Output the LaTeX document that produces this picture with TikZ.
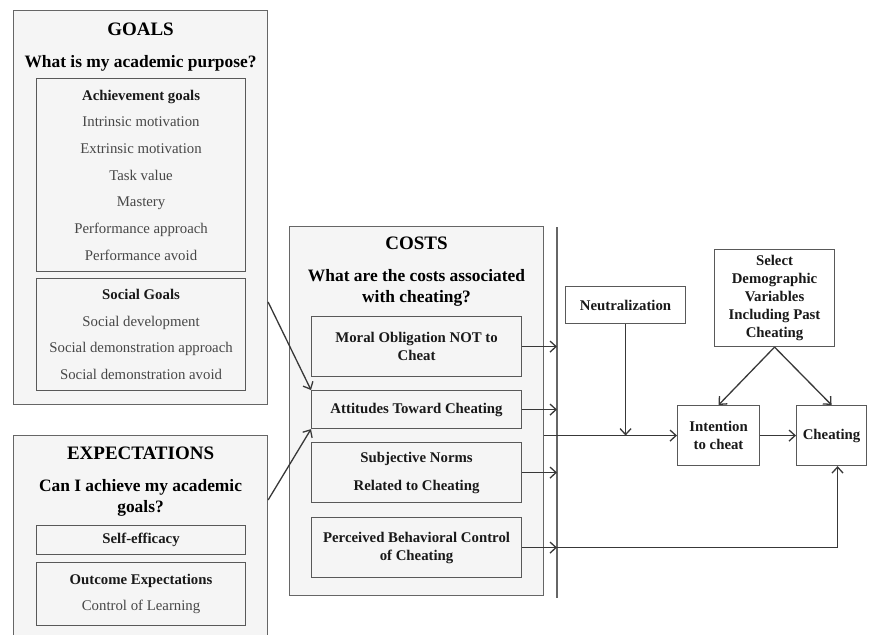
\documentclass[tikz,border=0pt]{standalone}
\usepackage{fontspec}
\setmainfont{Liberation Serif}
\usetikzlibrary{positioning, arrows.meta}
\newcommand\panelfont{\fontsize{19}{22}\selectfont\bfseries}
\newcommand\askfont{\fontsize{17.4}{21}\selectfont\bfseries}
\newcommand\listfont{\fontsize{14.8}{26.7}\selectfont}
\newcommand\boxfont{\fontsize{14.8}{18}\selectfont\bfseries}
\tikzset{
	>={Straight Barb[length=6pt,width=11pt]},
	panel/.append style={
		draw=black!60,
		fill=black!4,
		line width=1.1pt,
		anchor=north west,
		inner sep=0pt
	},
	txt/.append style={
		inner sep=0pt,
		align=center
	},
	listbox/.append style={
		draw=black!65,
		fill=black!4,
		line width=1.1pt,
		anchor=north west,
		align=center,
		font=\listfont,
		text=black!72,
		inner sep=0pt
	},
	costbox/.append style={
		listbox,
		font=\boxfont,
		text=black!90
	},
	plainbox/.append style={
		costbox,
		fill=white
	},
	link/.append style={
		draw=black!78,
		line width=1.3pt
	}
}

\begin{document}
\begin{tikzpicture}[x=1pt, y=-1pt]
		\useasboundingbox (0,0) rectangle (872,634);

		% goals
		\node(goals)[panel, minimum width=254pt, minimum height=394pt] at (13,10) {};
		\node(goalstitle)[txt, font=\panelfont, below=13pt of goals.north]{GOALS};
		\node(goalsask)[txt, font=\askfont, below=19pt of goalstitle]{What is my academic purpose?};
		\node(achieve)[listbox, minimum width=209pt, minimum height=193pt] at (36,78) {{\color{black!90}\textbf{Achievement goals}}\\Intrinsic motivation\\Extrinsic motivation\\Task value\\Mastery\\Performance approach\\Performance avoid};
		\node(social)[listbox, minimum width=209pt, minimum height=112pt] at (36,278) {{\color{black!90}\textbf{Social Goals}}\\Social development\\Social demonstration approach\\Social demonstration avoid};

		% expectations
		\node(expect)[panel, minimum width=254pt, minimum height=240pt] at (13,435) {};
		\node(expecttitle)[txt, font=\panelfont, below=12pt of expect.north]{EXPECTATIONS};
		\node(expectask)[txt, font=\askfont, below=19pt of expecttitle]{Can I achieve my academic\\goals?};
		\node(selfeff)[listbox, text=black!90, minimum width=209pt, minimum height=29pt] at (36,525) {\textbf{Self-efficacy}};
		\node(outcome)[listbox, minimum width=209pt, minimum height=63pt] at (36,562) {{\color{black!90}\textbf{Outcome Expectations}}\\Control of Learning};

		% costs
		\node(costs)[panel, minimum width=254pt, minimum height=369pt] at (289,226) {};
		\node(coststitle)[txt, font=\panelfont, below=11pt of costs.north]{COSTS};
		\node(costsask)[txt, font=\askfont, below=19pt of coststitle]{What are the costs associated\\with cheating?};
		\node(moral)[costbox, minimum width=210pt, minimum height=60pt] at (311,316) {Moral Obligation NOT to\\Cheat};
		\node(attitude)[costbox, minimum width=210pt, minimum height=38pt] at (311,390) {Attitudes Toward Cheating};
		\node(subjective)[costbox, minimum width=210pt, minimum height=60pt] at (311,442) {Subjective Norms\\[10pt]Related to Cheating};
		\node(perceived)[costbox, minimum width=210pt, minimum height=60pt] at (311,517) {Perceived Behavioral Control\\of Cheating};

		\coordinate(bartop) at (557,227);
		\coordinate(barbot) at (557,598);
		\draw[link, draw=black!60] (bartop) -- (barbot);

		% outcome side
		\node(neutral)[plainbox, minimum width=120pt, minimum height=37pt] at (565,286) {Neutralization};
		\node(select)[plainbox, minimum width=120pt, minimum height=97pt] at (714,249) {Select\\Demographic\\Variables\\Including Past\\Cheating};
		\node(intention)[plainbox, minimum width=82pt, minimum height=60pt] at (677,405) {Intention\\to cheat};
		\node(cheating)[plainbox, minimum width=70pt, minimum height=60pt] at (796,405) {Cheating};

		\draw[link, ->] ([yshift=-292pt]goals.north east) -- (attitude.north west);
		\draw[link, ->] ([yshift=-65pt]expect.north east) -- (attitude.south west);
		\foreach \b in {moral, attitude, subjective, perceived}
			\draw[link, ->] (\b.east) -- (\b.east -| bartop);

		\draw[link, ->] (intention.west -| costs.east) -- (intention.west);
		\draw[link, ->] (neutral.south) -- (neutral.south |- intention.west);
		\draw[link, ->] (select.south) -- (intention.north);
		\draw[link, ->] (select.south) -- (cheating.north);
		\draw[link, ->] (intention) -- (cheating);
		\draw[link, ->] (perceived.east -| bartop) -| ([xshift=6pt]cheating.south);
\end{tikzpicture}
\end{document}
